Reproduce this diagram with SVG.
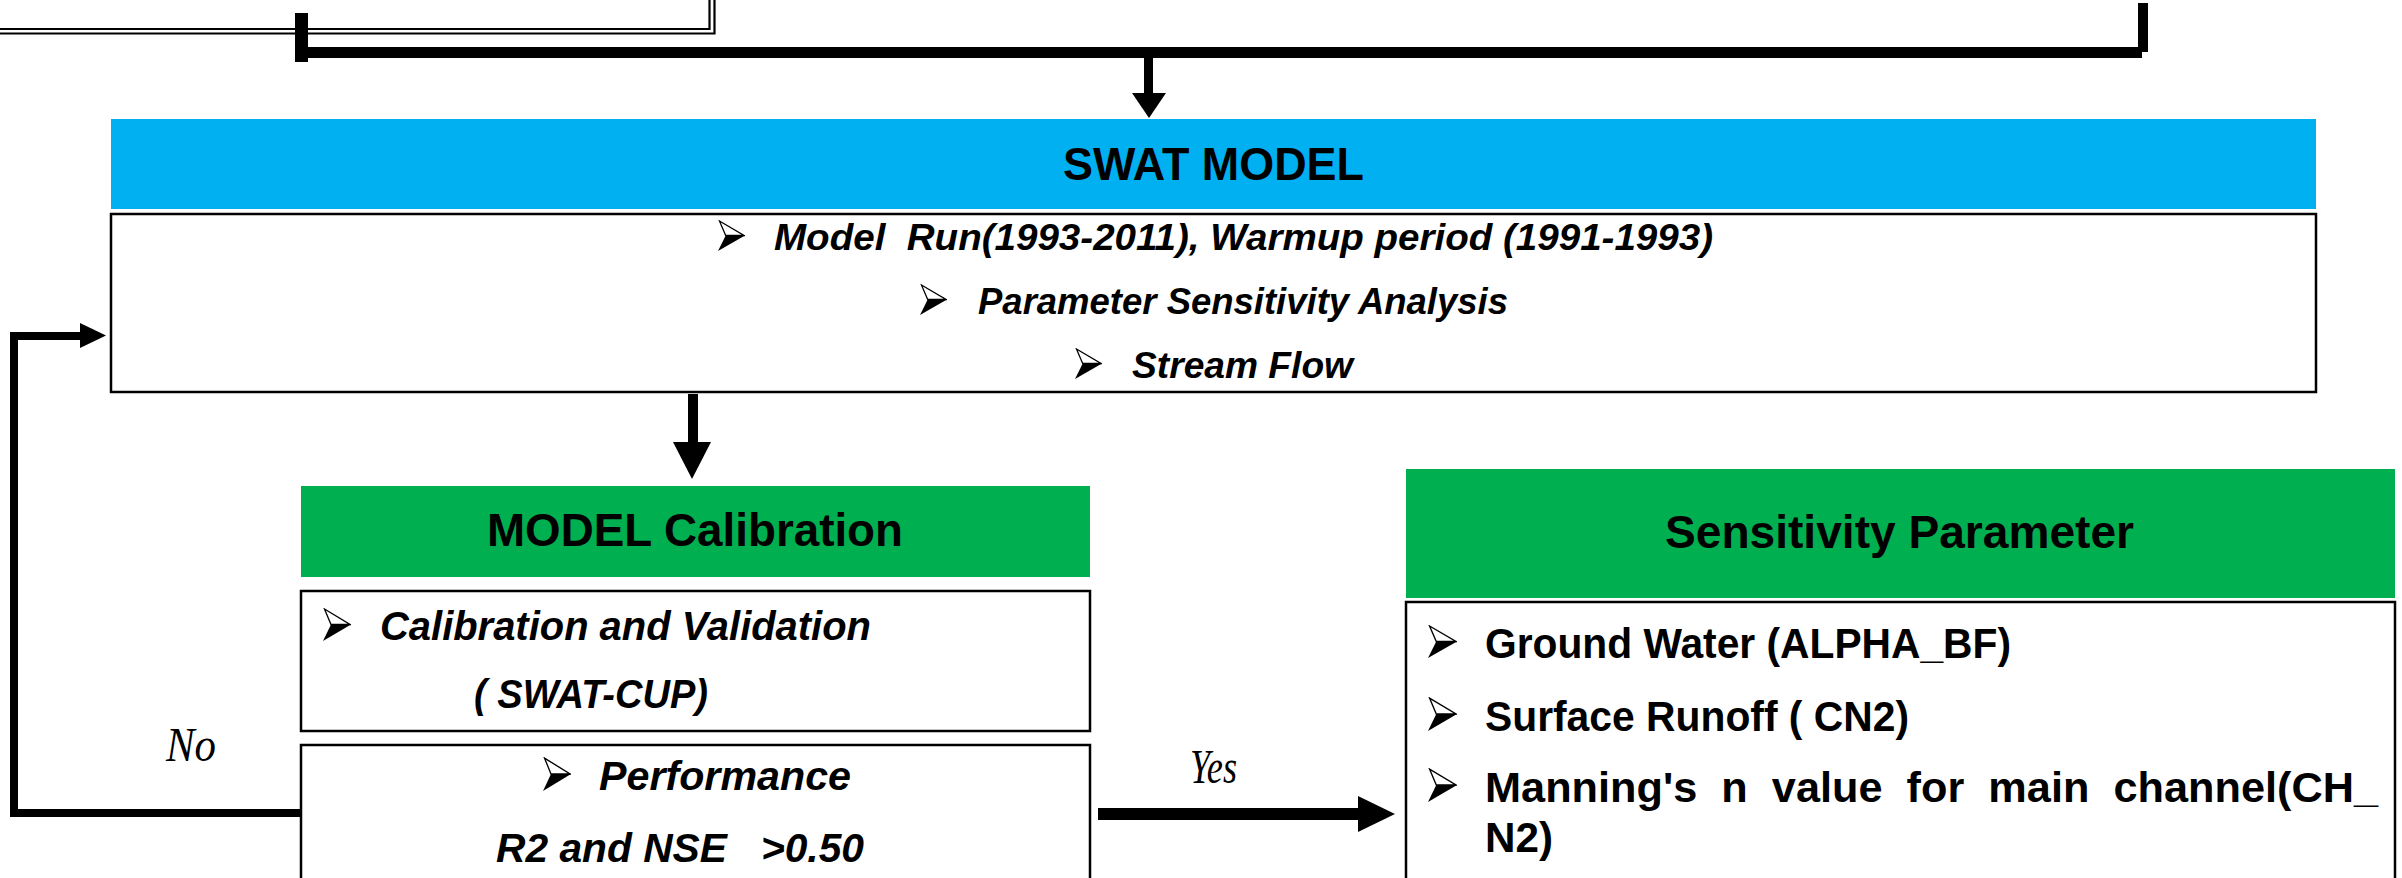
<svg xmlns="http://www.w3.org/2000/svg" xmlns:xlink="http://www.w3.org/1999/xlink" width="2402" height="878" viewBox="0 0 2402 878">
<style>
  .hdr{font-family:"Liberation Sans",Arial,sans-serif;font-weight:bold;font-size:47px;fill:#000;white-space:pre}
  .it{font-family:"Liberation Sans",Arial,sans-serif;font-weight:bold;font-style:italic;fill:#000;white-space:pre}
  .bd{font-family:"Liberation Sans",Arial,sans-serif;font-weight:bold;font-size:42px;fill:#000;white-space:pre}
  .lbl{font-family:"Liberation Serif","Times New Roman",serif;font-style:italic;font-size:48px;fill:#000}
  .box{fill:#fff;stroke:#000;stroke-width:2.5}
  .blue{fill:#00B0F0}
  .green{fill:#00B050}
  .dbl{fill:none;stroke:#000;stroke-width:2.2}
  .wire{fill:none;stroke:#000;stroke-width:8;stroke-linejoin:miter}
  .solid{fill:#000}
</style>
<defs>
  <symbol id="bul" viewBox="0 0 28 32" preserveAspectRatio="none">
    <polygon points="1.5,1 27,16 8,16" fill="#fff" stroke="#000" stroke-width="1.3"/>
    <polygon points="8,16 28,16 0,32" fill="#000"/>
  </symbol>
</defs>
<rect x="0" y="0" width="2402" height="878" fill="#fff"/>

<g id="input-box">
  <path class="dbl" d="M-5 29 H709.5 V-5"/>
  <path class="dbl" d="M-5 33.5 H714.5 V-5"/>
</g>

<g id="swat-model">
  <rect class="blue" x="111" y="119" width="2205" height="90"/>
  <text class="hdr" x="1213.5" y="180" text-anchor="middle" textLength="301" lengthAdjust="spacingAndGlyphs">SWAT MODEL</text>
  <rect class="box" x="111" y="214" width="2205" height="178"/>
  <use href="#bul" x="718" y="220" width="27" height="31"/>
  <text class="it" font-size="37" x="774" y="250" textLength="939" lengthAdjust="spacingAndGlyphs">Model  Run(1993-2011), Warmup period (1991-1993)</text>
  <use href="#bul" x="920" y="284" width="27" height="31"/>
  <text class="it" font-size="37" x="978" y="314" textLength="530" lengthAdjust="spacingAndGlyphs">Parameter Sensitivity Analysis</text>
  <use href="#bul" x="1075" y="348" width="27" height="31"/>
  <text class="it" font-size="37" x="1132" y="378" textLength="221" lengthAdjust="spacingAndGlyphs">Stream Flow</text>
</g>

<g id="model-calibration">
  <rect class="green" x="301" y="486" width="789" height="91"/>
  <text class="hdr" x="695" y="546" text-anchor="middle" textLength="416" lengthAdjust="spacingAndGlyphs">MODEL Calibration</text>
  <rect class="box" x="301" y="591" width="789" height="140"/>
  <use href="#bul" x="323" y="608" width="28" height="33"/>
  <text class="it" font-size="40" x="380" y="640" textLength="491" lengthAdjust="spacingAndGlyphs">Calibration and Validation</text>
  <text class="it" font-size="40" x="474" y="708" textLength="234" lengthAdjust="spacingAndGlyphs">( SWAT-CUP)</text>
</g>

<g id="performance">
  <rect class="box" x="301" y="745" width="789" height="160"/>
  <use href="#bul" x="543" y="757" width="28" height="34"/>
  <text class="it" font-size="40" x="599" y="790" textLength="252" lengthAdjust="spacingAndGlyphs">Performance</text>
  <text class="it" font-size="40" x="496" y="862" textLength="368" lengthAdjust="spacingAndGlyphs">R2 and NSE   &gt;0.50</text>
</g>

<g id="sensitivity-parameter">
  <rect class="green" x="1406" y="469" width="989" height="129"/>
  <text class="hdr" x="1899.5" y="548" text-anchor="middle" textLength="469" lengthAdjust="spacingAndGlyphs">Sensitivity Parameter</text>
  <rect class="box" x="1406" y="602" width="989" height="300" stroke-width="3"/>
  <use href="#bul" x="1428" y="625" width="29" height="33"/>
  <text class="bd" x="1485" y="658" textLength="526" lengthAdjust="spacingAndGlyphs">Ground Water (ALPHA_BF)</text>
  <use href="#bul" x="1428" y="697" width="29" height="34"/>
  <text class="bd" x="1485" y="731" textLength="424" lengthAdjust="spacingAndGlyphs">Surface Runoff ( CN2)</text>
  <use href="#bul" x="1428" y="768" width="29" height="34"/>
  <text class="bd" x="1485" y="802" textLength="893" lengthAdjust="spacingAndGlyphs">Manning's  n  value  for  main  channel(CH_</text>
  <text class="bd" x="1485" y="852" textLength="68" lengthAdjust="spacingAndGlyphs">N2)</text>
</g>

<g id="connectors">
  <!-- merge bracket -->
  <rect class="solid" x="295" y="13" width="13" height="49"/>
  <rect class="solid" x="302" y="47" width="1840" height="11"/>
  <rect class="solid" x="2138" y="3" width="10" height="49"/>
  <!-- arrow to SWAT MODEL -->
  <rect class="solid" x="1144" y="57" width="9" height="37"/>
  <polygon class="solid" points="1132,93 1166,93 1149,118"/>
  <!-- arrow to MODEL Calibration -->
  <rect class="solid" x="688" y="394" width="10" height="49"/>
  <polygon class="solid" points="673,442 711,442 692,479"/>
  <!-- No feedback loop -->
  <path class="wire" d="M301 813 H14 V336 H82"/>
  <polygon class="solid" points="80,323 106,335.5 80,348"/>
  <text class="lbl" x="166" y="761" textLength="50" lengthAdjust="spacingAndGlyphs">No</text>
  <!-- Yes arrow -->
  <rect class="solid" x="1098" y="808" width="262" height="12"/>
  <polygon class="solid" points="1358,796 1395,814 1358,832"/>
  <text class="lbl" x="1190" y="783" textLength="47" lengthAdjust="spacingAndGlyphs">Yes</text>
</g>
</svg>
